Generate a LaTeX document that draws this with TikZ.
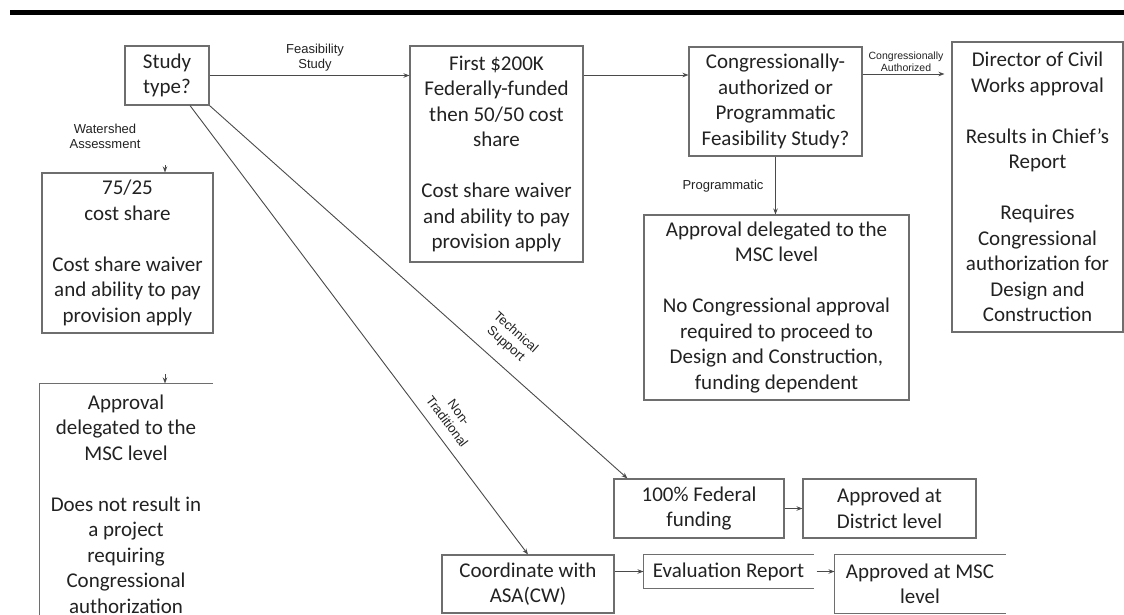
\documentclass[tikz,border=0pt]{standalone}
\usepackage{fontspec}
\setmainfont{Carlito}
\newfontfamily\lblfont{Liberation Sans}
\usetikzlibrary{arrows.meta}
\definecolor{linegray}{HTML}{4A4A4A}
\definecolor{boxgray}{HTML}{6E6E6E}
\definecolor{txt}{HTML}{222222}
\begin{document}
\begin{tikzpicture}[x=1pt,y=-1pt,
  box/.style={draw=boxgray, line width=1.1pt, inner sep=0pt, align=center, text=txt,
    font=\fontsize{21}{25.5}\selectfont},
  openbox/.style={box, draw=none},
  edgeline/.style={draw=boxgray, line width=1.1pt},
  arr/.style={draw=linegray, line width=0.9pt, -{Stealth[length=6pt,width=4.5pt]}},
  lbl/.style={font=\lblfont\fontsize{13}{15}\selectfont, text=txt, align=center, inner sep=0pt},
  slbl/.style={font=\lblfont\fontsize{10.5}{12.5}\selectfont, text=txt, align=center, inner sep=0pt}]
\useasboundingbox[fill=white] (0,0) rectangle (1124,614);
% top bar
\draw[line width=5pt, black] (10,12.5) -- (1124,12.5);

% nodes
\node[box, minimum width=84pt, minimum height=59pt] (study) at (167,75.5) {Study\\type?};
\node[box, minimum width=173pt, minimum height=216pt] (first) at (496.5,154)
  {First \$200K\\Federally-funded\\then 50/50 cost\\share\\[25.5pt]Cost share waiver\\and ability to pay\\provision apply};
\node[box, minimum width=173pt, minimum height=109pt] (cong) at (775.5,101.5)
  {Congressionally-\\authorized or\\Programmatic\\Feasibility Study?};
\node[box, minimum width=171pt, minimum height=290pt] (dir) at (1037.5,187)
  {Director of Civil\\Works approval\\[25.5pt]Results in Chief’s\\Report\\[25.5pt]Requires\\Congressional\\authorization for\\Design and\\Construction};
\node[box, minimum width=265pt, minimum height=185pt] (msc) at (776.5,307.5)
  {Approval delegated to the\\MSC level\\[25.5pt]No Congressional approval\\required to proceed to\\Design and Construction,\\funding dependent};
\node[box, minimum width=171pt, minimum height=160pt] (ws) at (127.5,253)
  {75/25\\cost share\\[25.5pt]Cost share waiver\\and ability to pay\\provision apply};
\node[openbox, minimum width=172pt, minimum height=240pt] (lb) at (126,504)
  {Approval\\delegated to the\\MSC level\\[25.5pt]Does not result in\\a project\\requiring\\Congressional\\authorization};
\node[box, minimum width=170pt, minimum height=59pt] (fed) at (699,508.5) {100\% Federal\\funding};
\node[box, minimum width=173pt, minimum height=59pt] (dist) at (889.5,508.5) {Approved at\\District level};
\node[box, minimum width=172pt, minimum height=58pt] (coord) at (528,584) {Coordinate with\\ASA(CW)};
\node[openbox, minimum width=169pt, minimum height=33pt] (ev) at (728.5,571.5) {Evaluation Report};
\node[openbox, minimum width=170pt, minimum height=58pt] (am) at (920,584) {Approved at MSC\\level};

% partial borders
\draw[edgeline] (lb.north east) -- (lb.north west) -- (lb.south west);
\draw[edgeline] (ev.north east) -- (ev.north west) -- (ev.south west) -- (ev.south east);
\draw[edgeline] (am.north east) -- (am.north west) -- (am.south west) -- (am.south east);

% connectors
\draw[arr] (study.east) -- (study.east -| first.west);
\draw[arr] (first.east |- 0,75) -- (cong.west |- 0,75);
\draw[arr, shorten >=7pt] (cong.east |- 0,74) -- (dir.west |- 0,74);
\draw[arr] (cong.south) -- (cong.south |- msc.north);
\coordinate (wsA) at (165,165);
\draw[arr] (wsA) -- (wsA |- ws.north);
\coordinate (wsB) at (165,374);
\draw[arr] (wsB) -- (wsB |- lb.north);
\draw[arr] (study.south east) -- ([xshift=14pt]fed.north west);
\draw[arr] ([xshift=23pt]study.south) -- (coord.north);
\draw[arr] (fed.east) -- (dist.west);
\draw[arr] (coord.east |- ev.west) -- (ev.west);
\draw[arr] ([xshift=3pt]ev.east) -- (ev.east -| am.west);

% labels
\node[lbl] (lfeas) at (315,58) {Feasibility\\Study};
\node[lbl] (lws) at (105,136) {Watershed\\Assessment};
\node[lbl] (lprog) at (723,186) {Programmatic};
\node[slbl] (lca) at (906,61.5) {Congressionally\\Authorized};
\node[lbl, rotate=-41.6] (ltech) at (510.5,338.5) {Technical\\Support};
\node[lbl, rotate=-53.1] (lnon) at (453,417) {Non-\\Traditional};
\end{tikzpicture}
\end{document}
